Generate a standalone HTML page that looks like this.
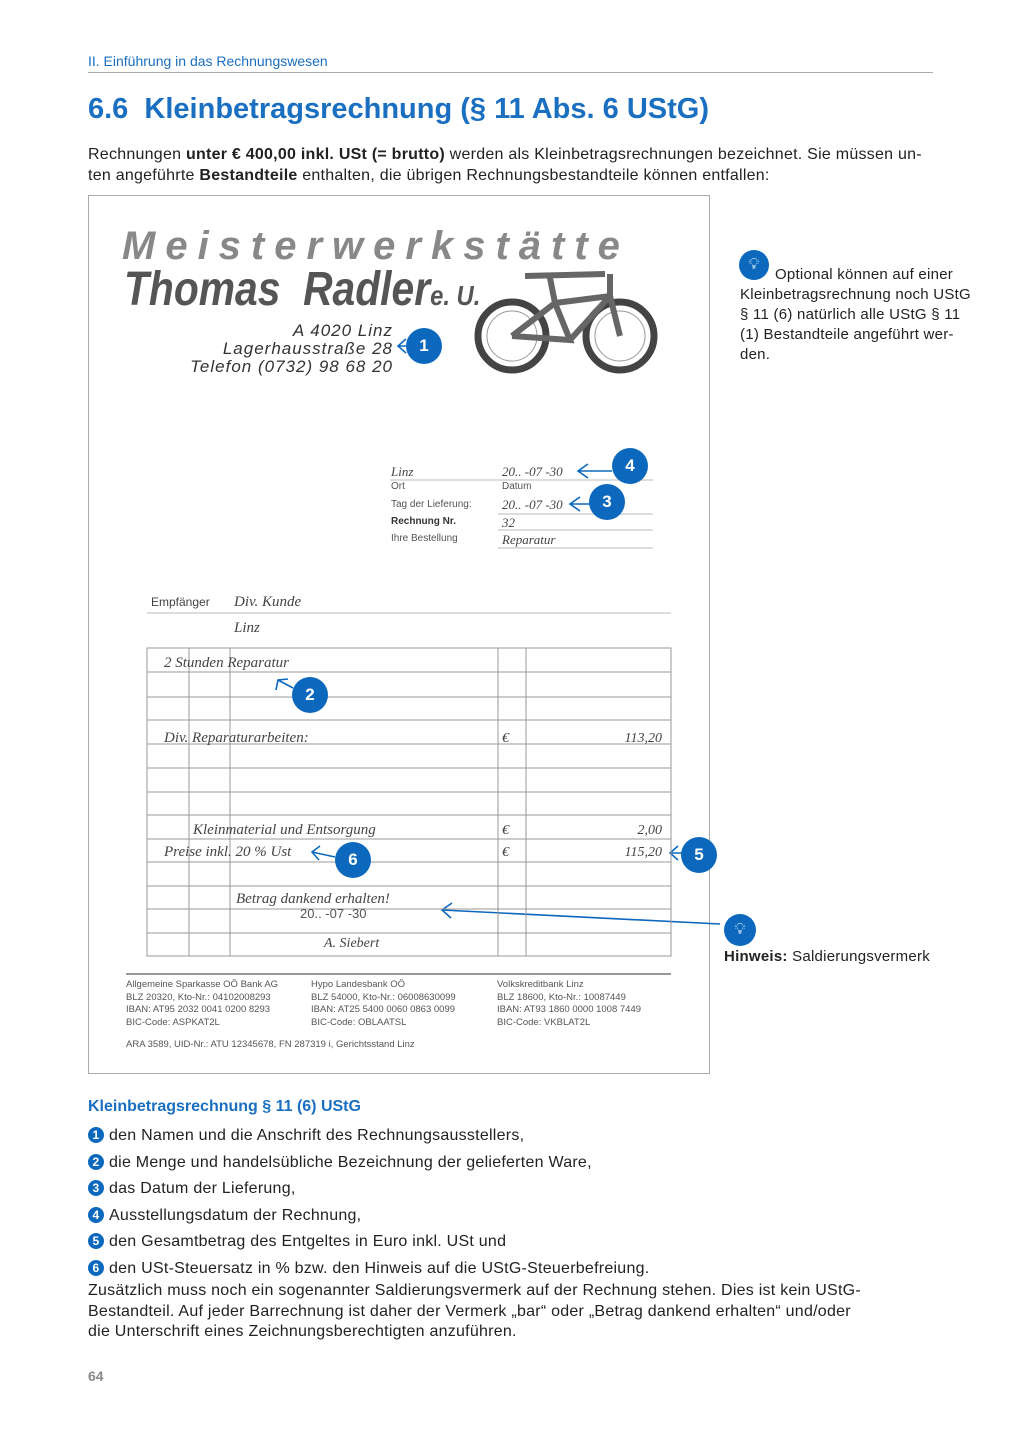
<!DOCTYPE html>
<html><head><meta charset="utf-8"><style>
body{margin:0;background:#fff;}
#p{position:relative;width:1018px;height:1440px;overflow:hidden;font-family:"Liberation Sans",sans-serif;color:#111;}
.a{position:absolute;white-space:nowrap;}
.c{position:absolute;width:36px;height:36px;border-radius:50%;background:#0c68bd;color:#fff;font-weight:bold;font-size:17px;text-align:center;line-height:36px;}
.hw{font-family:"Liberation Serif",serif;font-style:italic;color:#444;}
.sm{font-size:10px;color:#555;}
.n{display:inline-block;width:16px;height:16px;border-radius:50%;background:#0c68bd;color:#fff;font-size:12px;font-weight:bold;text-align:center;line-height:16px;margin-right:5px;vertical-align:1px}
.t{font-size:16px;color:#222;letter-spacing:0.25px}
</style></head><body><div id="p">
<div class="a" style="left:88px;top:53px;font-size:14px;color:#1a6fc0">II. Einführung in das Rechnungswesen</div>
<div class="a" style="left:88px;top:72px;width:845px;border-top:1px solid #aaa"></div>
<div class="a" style="left:88px;top:93px;font-size:29px;font-weight:bold;color:#1a6fc0">6.6&nbsp; Kleinbetragsrechnung (§ 11 Abs. 6 UStG)</div>
<div class="a t" style="left:88px;top:144px;line-height:21px">Rechnungen <b>unter € 400,00 inkl. USt (= brutto)</b> werden als Kleinbetragsrechnungen bezeichnet. Sie müssen un-<br>ten angeführte <b>Bestandteile</b> enthalten, die übrigen Rechnungsbestandteile können entfallen:</div>

<div class="a" style="left:88px;top:195px;width:620px;height:877px;border:1px solid #aaa"></div>
<div class="a" style="left:122px;top:224px;font-size:40px;font-style:italic;font-weight:bold;color:#888;letter-spacing:10px">Meisterwerkstätte</div>
<div class="a" style="left:124px;top:262px;font-size:48px;font-weight:bold;font-style:italic;color:#555;transform:scaleX(0.85);transform-origin:left">Thomas&nbsp; Radler<span style="font-size:28px">e. U.</span></div>
<div class="a" style="left:150px;top:322px;width:243px;text-align:right;font-size:17px;font-style:italic;color:#333;line-height:18px;letter-spacing:1px">A 4020 Linz<br>Lagerhausstraße 28<br>Telefon (0732) 98 68 20</div>
<svg class="a" style="left:470px;top:268px" width="190" height="110" viewBox="0 0 190 110">
<g fill="none" stroke="#444" stroke-width="7"><circle cx="42" cy="68" r="34"/><circle cx="150" cy="68" r="34"/></g>
<g fill="none" stroke="#999" stroke-width="1"><circle cx="42" cy="68" r="25"/><circle cx="150" cy="68" r="25"/></g>
<g stroke="#666" stroke-width="6" fill="none"><path d="M42 68 L85 35 L140 28 L150 68 M85 35 L100 72 L42 68 M100 72 L140 28 M55 8 L135 6 M80 10 L85 35 M140 6 L140 28"/></g>
</svg>
<div class="c" style="left:406px;top:328px">1</div>
<svg class="a" style="left:0;top:0" width="1018" height="1440"><g stroke="#0c68bd" stroke-width="1.6" fill="none">
<path d="M408 346 L398 346 M406 339 L398 346 L406 353"/>
<path d="M612 471 L578 471 M588 464 L578 471 L588 478"/>
<path d="M590 504 L570 504 M580 497 L570 504 L580 511"/>
<path d="M293 688 L278 680 M276 690 L278 680 L288 679"/>
<path d="M335 857 L312 852 M320 846 L312 852 L319 860"/>
<path d="M683 853 L670 853 M678 846 L670 853 L678 860"/>
<path d="M720 924 L442 910 M452 903 L442 910 L451 918"/>
</g>
<g stroke="#bbb" stroke-width="1"><line x1="390" y1="480" x2="653" y2="480"/><line x1="498" y1="514" x2="653" y2="514"/><line x1="498" y1="530" x2="653" y2="530"/><line x1="498" y1="548" x2="653" y2="548"/><line x1="147" y1="613" x2="671" y2="613"/></g>
<g stroke="#999" stroke-width="1"><rect x="147" y="648" width="524" height="308" fill="none"/>
<line x1="189" y1="648" x2="189" y2="956"/><line x1="230" y1="648" x2="230" y2="956"/><line x1="498" y1="648" x2="498" y2="956"/><line x1="526" y1="648" x2="526" y2="956"/>
<line x1="147" y1="672" x2="671" y2="672"/><line x1="147" y1="697" x2="671" y2="697"/><line x1="147" y1="720" x2="671" y2="720"/><line x1="147" y1="744" x2="671" y2="744"/><line x1="147" y1="768" x2="671" y2="768"/><line x1="147" y1="792" x2="671" y2="792"/><line x1="147" y1="815" x2="671" y2="815"/><line x1="147" y1="839" x2="671" y2="839"/><line x1="147" y1="862" x2="671" y2="862"/><line x1="147" y1="886" x2="671" y2="886"/><line x1="147" y1="909" x2="671" y2="909"/><line x1="147" y1="933" x2="671" y2="933"/></g>
<line x1="126" y1="974" x2="671" y2="974" stroke="#333" stroke-width="1"/>
</svg>
<div class="a hw" style="left:391px;top:464px;font-size:13px">Linz</div>
<div class="a hw" style="left:502px;top:464px;font-size:13px">20.. -07 -30</div>
<div class="a sm" style="left:391px;top:481px">Ort</div>
<div class="a sm" style="left:502px;top:481px">Datum</div>
<div class="a sm" style="left:391px;top:499px">Tag der Lieferung:</div>
<div class="a hw" style="left:502px;top:497px;font-size:13px">20.. -07 -30</div>
<div class="a sm" style="left:391px;top:516px;font-weight:bold;color:#333">Rechnung Nr.</div>
<div class="a hw" style="left:502px;top:515px;font-size:13px">32</div>
<div class="a sm" style="left:391px;top:533px">Ihre Bestellung</div>
<div class="a hw" style="left:502px;top:532px;font-size:13px">Reparatur</div>
<div class="c" style="left:612px;top:448px">4</div>
<div class="c" style="left:589px;top:484px">3</div>
<div class="a" style="left:151px;top:595px;font-size:12px;color:#444">Empfänger</div>
<div class="a hw" style="left:234px;top:594px;font-size:15px">Div. Kunde</div>
<div class="a hw" style="left:234px;top:620px;font-size:15px">Linz</div>
<div class="a hw" style="left:164px;top:655px;font-size:15px">2 Stunden Reparatur</div>
<div class="c" style="left:292px;top:677px">2</div>
<div class="a hw" style="left:164px;top:730px;font-size:15px">Div. Reparaturarbeiten:</div>
<div class="a hw" style="left:502px;top:731px;font-size:14px">€</div>
<div class="a hw" style="left:600px;top:731px;width:62px;text-align:right;font-size:14px">113,20</div>
<div class="a hw" style="left:193px;top:822px;font-size:15px">Kleinmaterial und Entsorgung</div>
<div class="a hw" style="left:502px;top:823px;font-size:14px">€</div>
<div class="a hw" style="left:600px;top:823px;width:62px;text-align:right;font-size:14px">2,00</div>
<div class="a hw" style="left:164px;top:844px;font-size:15px">Preise inkl. 20 % Ust</div>
<div class="a hw" style="left:502px;top:845px;font-size:14px">€</div>
<div class="a hw" style="left:600px;top:845px;width:62px;text-align:right;font-size:14px">115,20</div>
<div class="c" style="left:335px;top:842px">6</div>
<div class="c" style="left:681px;top:837px">5</div>
<div class="a hw" style="left:236px;top:891px;font-size:15px">Betrag dankend erhalten!</div>
<div class="a" style="left:300px;top:906px;font-size:13px;color:#555">20.. -07 -30</div>
<div class="a hw" style="left:324px;top:936px;font-size:14px">A. Siebert</div>
<div class="a sm" style="left:126px;top:979px;line-height:12.5px;font-size:9.5px">Allgemeine Sparkasse OÖ Bank AG<br>BLZ 20320, Kto-Nr.: 04102008293<br>IBAN: AT95 2032 0041 0200 8293<br>BIC-Code: ASPKAT2L</div>
<div class="a sm" style="left:311px;top:979px;line-height:12.5px;font-size:9.5px">Hypo Landesbank OÖ<br>BLZ 54000, Kto-Nr.: 06008630099<br>IBAN: AT25 5400 0060 0863 0099<br>BIC-Code: OBLAATSL</div>
<div class="a sm" style="left:497px;top:979px;line-height:12.5px;font-size:9.5px">Volkskreditbank Linz<br>BLZ 18600, Kto-Nr.: 10087449<br>IBAN: AT93 1860 0000 1008 7449<br>BIC-Code: VKBLAT2L</div>
<div class="a sm" style="left:126px;top:1039px;font-size:9.5px">ARA 3589, UID-Nr.: ATU 12345678, FN 287319 i, Gerichtsstand Linz</div>

<div class="a" style="left:739px;top:250px;width:30px;height:30px;border-radius:50%;background:#0c68bd;color:#fff;text-align:center;line-height:30px;font-size:16px">💡︎</div>
<div class="a t" style="left:740px;top:265px;font-size:15px;line-height:20px;white-space:normal;width:245px;text-indent:35px">Optional können auf einer<br>Kleinbetragsrechnung noch UStG<br>§ 11 (6) natürlich alle UStG § 11<br>(1) Bestandteile angeführt wer-<br>den.</div>
<div class="a" style="left:724px;top:914px;width:32px;height:32px;border-radius:50%;background:#0c68bd;color:#fff;text-align:center;line-height:32px;font-size:16px">💡︎</div>
<div class="a t" style="left:724px;top:948px;font-size:15px"><b>Hinweis:</b> Saldierungsvermerk</div>

<div class="a" style="left:88px;top:1098px;font-size:16px;font-weight:bold;color:#1a6fc0">Kleinbetragsrechnung § 11 (6) UStG</div>
<div class="a t" style="left:88px;top:1127px"><span class="n">1</span>den Namen und die Anschrift des Rechnungsausstellers,</div>
<div class="a t" style="left:88px;top:1154px"><span class="n">2</span>die Menge und handelsübliche Bezeichnung der gelieferten Ware,</div>
<div class="a t" style="left:88px;top:1180px"><span class="n">3</span>das Datum der Lieferung,</div>
<div class="a t" style="left:88px;top:1207px"><span class="n">4</span>Ausstellungsdatum der Rechnung,</div>
<div class="a t" style="left:88px;top:1233px"><span class="n">5</span>den Gesamtbetrag des Entgeltes in Euro inkl. USt und</div>
<div class="a t" style="left:88px;top:1260px"><span class="n">6</span>den USt-Steuersatz in % bzw. den Hinweis auf die UStG-Steuerbefreiung.</div>
<div class="a t" style="left:88px;top:1281px;line-height:20.5px">Zusätzlich muss noch ein sogenannter Saldierungsvermerk auf der Rechnung stehen. Dies ist kein UStG-<br>Bestandteil. Auf jeder Barrechnung ist daher der Vermerk „bar“ oder „Betrag dankend erhalten“ und/oder<br>die Unterschrift eines Zeichnungsberechtigten anzuführen.</div>
<div class="a" style="left:88px;top:1368px;font-size:14px;font-weight:bold;color:#888">64</div>
</div></body></html>
